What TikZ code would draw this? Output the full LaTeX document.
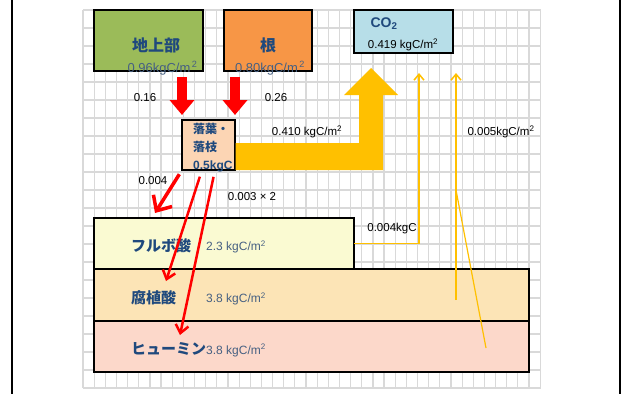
\documentclass[tikz,border=0pt]{standalone}
\usepackage{fontspec}
\setmainfont{Liberation Sans}
\newfontfamily\jpfont{Noto Sans CJK JP}
\usepackage{tikz}
\usetikzlibrary{arrows.meta}
\definecolor{agcol}{RGB}{155,187,89}
\definecolor{rootcol}{RGB}{247,150,70}
\definecolor{cotwocol}{RGB}{183,222,232}
\definecolor{fallcol}{RGB}{252,213,180}
\definecolor{fulvcol}{RGB}{250,250,210}
\definecolor{humacol}{RGB}{252,228,182}
\definecolor{humicol}{RGB}{252,216,202}
\definecolor{titlecol}{RGB}{31,73,125}
\definecolor{valcol}{RGB}{70,96,130}
\definecolor{flowcol}{RGB}{255,192,0}
\definecolor{gridcol}{RGB}{217,217,217}
\tikzset{pool/.style={draw=black, line width=1.2pt, inner sep=0pt, outer sep=0pt}}
\tikzset{pooltitle/.style={text=titlecol, inner sep=0pt, font=\jpfont\bfseries\fontsize{15}{15}\selectfont}}
\tikzset{poolvalue/.style={text=valcol, inner sep=0pt, font=\fontsize{12}{12}\selectfont}}
\tikzset{flowlabel/.style={text=black, inner sep=0pt, font=\fontsize{11.5}{11.5}\selectfont}}
\tikzset{bigred/.style={draw=red, line width=10pt, -{Triangle[length=15pt,width=24pt]}}}
\tikzset{thinred/.style={draw=red, line width=2.5pt, -{Straight Barb[length=8pt,width=13pt]}}}
\tikzset{thinflow/.style={draw=flowcol, line width=1.5pt}}
\tikzset{gridline/.style={draw=gridcol, line width=1.2pt}}

\begin{document}
\begin{tikzpicture}[x=1pt,y=-1pt]
    \useasboundingbox (0,0) rectangle (621,394);
    \draw[line width=2pt] (11.5,0) -- (11.5,394);
    \draw[line width=2pt] (620,0) -- (620,394);

    % sheet grid
    \foreach \i in {0,...,41} \draw[gridline] (83+\i*11.15,10) -- (83+\i*11.15,388);
    \foreach \j in {0,...,21} \draw[gridline] (83,10+\j*18) -- (541,10+\j*18);

    \node[pool, fill=agcol, minimum width=109pt, minimum height=61pt] at (148.5,40.5) (ag){};
    \node[pool, fill=rootcol, minimum width=88pt, minimum height=61pt] at (268,40.5) (root){};
    \node[pool, fill=cotwocol, minimum width=99pt, minimum height=43pt] at (403.5,31.5) (co2){};
    \node[pool, fill=fallcol, minimum width=53pt, minimum height=50pt] at (208.5,145) (fall){};
    \node[pool, fill=fulvcol, minimum width=260pt, minimum height=51pt] at (224,243.5) (fulvic){};
    \node[pool, fill=humacol, minimum width=435pt, minimum height=52pt] at (311.5,295) (humic){};
    \node[pool, fill=humicol, minimum width=435pt, minimum height=51pt] at (311.5,346.5) (humin){};

    \node[pooltitle, font=\jpfont\bfseries\fontsize{16}{16}\selectfont] at ([xshift = 7.5pt, yshift = -4.5pt]ag.center) (agname){地上部};
    \node[poolvalue, font=\fontsize{13}{13}\selectfont] at ([xshift = 14pt, yshift = 3pt]ag.south) (agval){0.96kgC/m\textsuperscript{\,2}};
    \node[pooltitle, font=\jpfont\bfseries\fontsize{16}{16}\selectfont] at ([yshift = -4.5pt]root.center) (rootname){根};
    \node[poolvalue, font=\fontsize{13}{13}\selectfont] at ([xshift = 2pt, yshift = 3pt]root.south) (rootval){0.80kgC/m\textsuperscript{\,2}};
    \node[pooltitle, font=\bfseries\fontsize{14}{14}\selectfont] at (384,24) (co2name){CO\textsubscript{2}};
    \node[flowlabel] at (403,45) (co2val){0.419 kgC/m\textsuperscript{2}};
    \node[pooltitle, anchor=west, align=left, font=\bfseries\fontsize{12}{18}\selectfont] at ([xshift = 11pt, yshift = -3pt]fall.west) (fallname){{\jpfont 落葉・}\\{\jpfont 落枝}\\0.5kgC};

    \node[pooltitle, anchor=west] at ([xshift = 37pt, yshift = -2.5pt]fulvic.west) (fulvname){フルボ酸};
    \node[poolvalue, anchor=west] at ([xshift = 112pt, yshift = -3.5pt]fulvic.west) (fulvval){2.3 kgC/m\textsuperscript{2}};
    \node[pooltitle, anchor=west] at ([xshift = 37pt, yshift = -3pt]humic.west) (humaname){腐植酸};
    \node[poolvalue, anchor=west] at ([xshift = 112pt, yshift = -4pt]humic.west) (humaval){3.8 kgC/m\textsuperscript{2}};
    \node[pooltitle, anchor=west] at ([xshift = 37pt, yshift = -2.5pt]humin.west) (huminame){ヒューミン};
    \node[poolvalue, anchor=west] at ([xshift = 112pt, yshift = -4pt]humin.west) (humival){3.8 kgC/m\textsuperscript{2}};

    % litter input
    \draw[bigred, shorten <=6pt, shorten >=5pt] (fall.north west |- ag.south) -- (fall.north west);
    \draw[bigred, shorten <=6pt, shorten >=5pt] (fall.north east |- root.south) -- (fall.north east);
    \node[flowlabel] at (145,98) (agrate){0.16};
    \node[flowlabel] at (276,98) (rootrate){0.26};

    % respiration
    \fill[flowcol] ([xshift = 0.6pt]fall.south east) -- ([xshift = 0.6pt]fall.south east |- 0,143) -- (359,143) -- (359,95) -- (344,95)
        -- (371,68) -- (398,95) -- (383,95) -- (383,170) -- cycle;
    \node[flowlabel] at (307,132) (resprate){0.410 kgC/m\textsuperscript{2}};

    \coordinate (fvtop) at (419,73);
    \draw[thinflow, -{Straight Barb[length=6pt,width=10pt]}] (fulvic.east) -| (fvtop);
    \node[flowlabel] at (392,229) (fvrate){0.004kgC};

    \coordinate (hmtop) at (456,73);
    \coordinate (hmfoot) at (456,300);
    \coordinate (hnfoot) at (486,348);
    \coordinate (hnjoin) at (456,190);
    \draw[thinflow, -{Straight Barb[length=6pt,width=10pt]}] (hmfoot) -- (hmtop);
    \draw[thinflow, line width=1.2pt] (hnfoot) -- (hnjoin);
    \node[flowlabel] at (501,132) (hmrate){0.005kgC/m\textsuperscript{2}};

    % humification
    \coordinate (fvhead) at (155,213);
    \coordinate (hahead) at (166,281);
    \coordinate (hnhead) at (180,335);
    \draw[thinred, line width=3.5pt, -{Straight Barb[length=12pt,width=22pt]}, shorten <=5pt] (fall.south west) -- (fvhead);
    \draw[thinred, shorten <=7pt] ([xshift = -6.5pt]fall.south) -- (hahead);
    \draw[thinred, shorten <=7pt] ([xshift = 6.5pt]fall.south) -- (hnhead);
    \node[flowlabel] at (153,181) (fvin){0.004};
    \node[flowlabel] at (252,197) (hin){0.003 × 2};
  \end{tikzpicture}
\end{document}
